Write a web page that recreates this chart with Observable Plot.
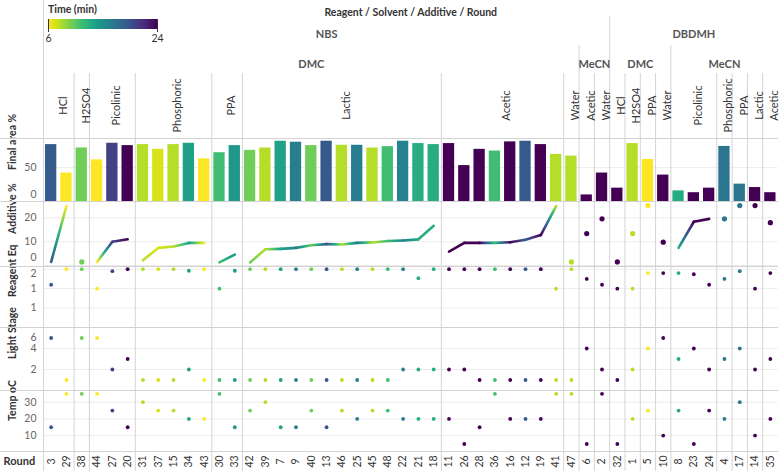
<!DOCTYPE html>
<html><head><meta charset="utf-8">
<script src="https://cdn.jsdelivr.net/npm/d3@7"></script>
<script src="https://cdn.jsdelivr.net/npm/@observablehq/plot@0.6"></script>
<style>
body{margin:0;background:#fff;font-family:Lato,sans-serif;}
#chart{position:relative;width:780px;height:471px;overflow:hidden;background:#fff}
#chart svg{display:block;overflow:visible}
.hline{position:absolute;left:0;width:778px;height:1px;background:#d2d2d2}
#legend{position:absolute;left:42px;top:0px}
</style></head><body><div id="chart"></div>
<script>
// ---- data (column order as in the chart) ----
const rounds = [3,29,38,44,27,20,31,37,15,34,43,30,33,42,39,7,9,40,13,46,25,45,48,22,21,18,11,26,28,36,16,12,19,41,47,6,2,32,1,5,10,8,23,24,4,17,14,35];
const reagent = ["NBS","NBS","NBS","NBS","NBS","NBS","NBS","NBS","NBS","NBS","NBS","NBS","NBS","NBS","NBS","NBS","NBS","NBS","NBS","NBS","NBS","NBS","NBS","NBS","NBS","NBS","NBS","NBS","NBS","NBS","NBS","NBS","NBS","NBS","NBS","NBS","NBS",
  "DBDMH","DBDMH","DBDMH","DBDMH","DBDMH","DBDMH","DBDMH","DBDMH","DBDMH","DBDMH","DBDMH"];
const solvent = ["DMC","DMC","DMC","DMC","DMC","DMC","DMC","DMC","DMC","DMC","DMC","DMC","DMC","DMC","DMC","DMC","DMC","DMC","DMC","DMC","DMC","DMC","DMC","DMC","DMC","DMC","DMC","DMC","DMC","DMC","DMC","DMC","DMC","DMC","DMC",
  "MeCN","MeCN","DMC","DMC","DMC","DMC","MeCN","MeCN","MeCN","MeCN","MeCN","MeCN","MeCN"];
const additive = ["HCl","HCl","H2SO4","Picolinic","Picolinic","Picolinic","Phosphoric","Phosphoric","Phosphoric","Phosphoric","Phosphoric","PPA","PPA",
  "Lactic","Lactic","Lactic","Lactic","Lactic","Lactic","Lactic","Lactic","Lactic","Lactic","Lactic","Lactic","Lactic",
  "Acetic","Acetic","Acetic","Acetic","Acetic","Acetic","Acetic","Acetic","Water",
  "Acetic","Water","HCl","H2SO4","PPA","Water","Picolinic","Picolinic","Picolinic","Phosphoric","PPA","Lactic","Acetic"];
const timeMin = [19,6,10,6,20.5,24,8,7,8,13.7,6,11.5,14.5,10,8,13.6,16.4,10,19,8,16.4,8,11.5,16,12.8,12.8,24,24,24,11.5,24,19,24,8,8,24,24,24,8,6,24,13,24,24,17,17,24,24];
const finalArea = [84,42,79,61.5,86,82.5,84,77,84,86,63,72,82.5,75.5,79,89,87.5,82.5,89,83,83,79,81,89,85.5,84,85.5,53,77,74.5,88,89,84,69.5,67,9.7,42,19.7,85.5,62,39,15.7,13,19.7,81.3,25.6,20.6,13];
const additivePct = [1.5,25,1.5,1.5,10,11,2.2,7.4,8,9.5,9.5,1.3,4.6,1.3,6.8,7,7.4,8.5,9,8.8,9.5,9.7,10.3,10.5,11,16.7,5.8,9.5,9.5,9.5,9.8,10.8,12.8,25,1.5,13.4,19.6,1.5,13.4,25.2,9.8,7.4,18.4,19.6,19.6,25.2,25.2,18];
const reagentEq = [1.1,1.5,1.5,1.0,1.45,1.5,1.5,1.5,1.5,1.46,1.5,1.0,1.46,1.5,1.5,1.5,1.5,1.5,1.5,1.5,1.5,1.5,1.5,1.5,1.27,1.5,1.5,1.5,1.5,1.5,1.5,1.5,1.5,1.0,1.5,1.25,1.1,1.0,1.0,1.4,1.4,1.4,1.37,1.1,1.25,1.45,1.0,1.4];
const lightStage = [5,1,5,5,2,3,1,1,1,2,1,1,1,1,1,1,1,1,1,1,1,1,1,2,2,2,2,2,1,1,1,1,1,1,1,4,2,1,2,4,5,3,4,2,3,4,2,3];
const tempC = [15,35,35,35,25,15,30,25,25,20,20,35,15,25,30,15,15,25,15,25,20,25,25,20,20,20,20,5,15,35,20,20,20,35,35,5,35,5,20,25,10,25,5,25,20,30,10,20];

// ---- table built from the arrays ----
const data = rounds.map((r, i) => ({
  i, round: r, reagent: reagent[i], solvent: solvent[i], additive: additive[i],
  time: timeMin[i], area: finalArea[i], add: additivePct[i], eq: reagentEq[i],
  light: lightStage[i], temp: tempC[i],
  k1: reagent[i], k2: reagent[i] + "|" + solvent[i], k3: reagent[i] + "|" + solvent[i] + "|" + additive[i]
}));
function runs(key, nameKey) {
  const out = [];
  for (const d of data) {
    const last = out[out.length - 1];
    if (last && last.k === d[key]) last.end = d.i + 1;
    else out.push({k: d[key], name: d[nameKey], start: d.i, end: d.i + 1});
  }
  out.forEach(g => g.mid = (g.start + g.end) / 2);
  return out;
}
const gReagent = runs("k1", "reagent"), gSolvent = runs("k2", "solvent"), gAdd = runs("k3", "additive");
const bReagent = gReagent.map(g => g.start).filter(s => s > 0);
const bSolvent = gSolvent.map(g => g.start).filter(s => s > 0 && !bReagent.includes(s));
const bAdd = gAdd.map(g => g.start).filter(s => s > 0 && !bReagent.includes(s) && !bSolvent.includes(s));
const bAll = [0, ...gAdd.map(g => g.start).filter(s => s > 0)];

// line segments for Additive %
const segs = [], singles = [];
for (const g of gAdd) {
  const pts = data.filter(d => d.k3 === g.k);
  if (pts.length === 1) singles.push(pts[0]);
  for (let j = 0; j + 1 < pts.length; j++) {
    segs.push({x1: pts[j].i + 0.5, y1: pts[j].add, x2: pts[j + 1].i + 0.5, y2: pts[j + 1].add, t1: pts[j].time, t2: pts[j + 1].time});
  }
}

const colorOpts = {type: "linear", scheme: "viridis", domain: [6, 24], reverse: true};
const FONT = "Lato, sans-serif";
const SEP = "#d4d4d4";
const base = {width: 780, marginLeft: 43, marginRight: 2.5, marginTop: 0, marginBottom: 0,
  x: {domain: [0, 48], axis: null},
  style: {fontFamily: FONT, fontSize: "10px", color: "#333", background: "transparent", overflow: "visible"}};

const chart = document.getElementById("chart");

// ---- header ----
const header = Plot.plot({...base, height: 138,
  marks: [
    Plot.ruleX([0], {stroke: SEP}),
    Plot.ruleX(bReagent, {stroke: SEP, insetTop: 16}),
    Plot.ruleX(bSolvent, {stroke: SEP, insetTop: 45}),
    Plot.ruleX(bAdd, {stroke: SEP, insetTop: 73}),
    Plot.text(["Reagent / Solvent / Additive / Round"], {text: d => d, frameAnchor: "top", dy: 8, fontWeight: "bold", fontSize: 10.5, fill: "#333"}),
    Plot.text(gReagent, {x: "mid", text: "name", frameAnchor: "top", dy: 30, fontSize: 11, fontWeight: "bold", fill: "#555"}),
    Plot.text(gSolvent, {x: "mid", text: "name", frameAnchor: "top", dy: 60, fontSize: 11, fontWeight: "bold", fill: "#555"}),
    Plot.text(gAdd, {x: "mid", text: "name", frameAnchor: "top", dy: 105, rotate: -90, fontSize: 11, fill: "#333"})
  ]});
chart.appendChild(header);

const leg = Plot.legend({color: colorOpts, label: "Time (min)", width: 121, marginLeft: 6, marginRight: 6,
  marginTop: 19, height: 48, tickSize: 3, ticks: [6, 24], tickFormat: d => d,
  style: {fontFamily: FONT, fontSize: "10.5px", color: "#333", background: "transparent"}});
leg.id = "legend";
chart.appendChild(leg);

// ---- panels ----
function panel({height, domain, ticks, edge = [], edgeDy = 0, fmt = d => d, title, marks}) {
  const normal = ticks.filter(t => !edge.includes(t));
  return Plot.plot({...base, height,
    y: {domain, axis: null},
    color: colorOpts,
    marks: [
      Plot.gridY(ticks, {stroke: "#ececec", strokeOpacity: 1}),
      Plot.ruleX(bAll, {stroke: SEP}),
      ...marks,
      Plot.text(normal, {y: d => d, text: fmt, frameAnchor: "left", dx: -7, textAnchor: "end", fill: "#666", fontSize: 10.5}),
      Plot.text(edge, {y: d => d, text: fmt, frameAnchor: "left", dx: -7, dy: edgeDy, textAnchor: "end", fill: "#666", fontSize: 10.5}),
      Plot.text([title], {text: d => d, frameAnchor: "left", dx: -31, rotate: -90, fontWeight: "bold", fontSize: 10.5, fill: "#333"})
    ]});
}

chart.appendChild(panel({height: 63, domain: [0, 93], ticks: [0, 50], edge: [0], edgeDy: -7, title: "Final area %",
  marks: [Plot.rectY(data, {x1: d => d.i, x2: d => d.i + 1, y: "area", fill: "time", insetLeft: 2, insetRight: 2})]}));

const addPlot = panel({height: 65, domain: [-0.42, 26.9], ticks: [0, 10, 20], edge: [0], edgeDy: -8, title: "Additive %",
  marks: [
    Plot.link(segs, {x1: "x1", y1: "y1", x2: "x2", y2: "y2", stroke: "t1", strokeWidth: 2.6, strokeLinecap: "round"}),
    Plot.dot(singles, {x: d => d.i + 0.5, y: "add", fill: "time", r: 2.6})
  ]});
chart.appendChild(addPlot);
// continuous colour along each segment (Tableau-style gradient)
(function () {
  const xs = addPlot.scale("x"), ys = addPlot.scale("y"), cs = addPlot.scale("color");
  const ns = "http://www.w3.org/2000/svg";
  const defs = document.createElementNS(ns, "defs");
  addPlot.insertBefore(defs, addPlot.firstChild);
  addPlot.querySelectorAll('g[aria-label="link"] path').forEach((p, j) => {
    const s = segs[j];
    const g = document.createElementNS(ns, "linearGradient");
    g.setAttribute("id", "seg" + j);
    g.setAttribute("gradientUnits", "userSpaceOnUse");
    g.setAttribute("x1", xs.apply(s.x1)); g.setAttribute("y1", ys.apply(s.y1));
    g.setAttribute("x2", xs.apply(s.x2)); g.setAttribute("y2", ys.apply(s.y2));
    for (let k = 0; k <= 4; k++) {
      const st = document.createElementNS(ns, "stop");
      st.setAttribute("offset", k / 4);
      st.setAttribute("stop-color", cs.apply(s.t1 + (s.t2 - s.t1) * k / 4));
      g.appendChild(st);
    }
    defs.appendChild(g);
    p.setAttribute("stroke", `url(#seg${j})`);
  });
})();

chart.appendChild(panel({height: 61, domain: [0, 1.57], ticks: [0.5, 1, 1.5], edge: [1.5], edgeDy: 4, fmt: d => String(Math.round(d)), title: "Reagent Eq",
  marks: [Plot.dot(data, {x: d => d.i + 0.5, y: "eq", fill: "time", r: 1.9})]}));

chart.appendChild(panel({height: 63, domain: [0, 6], ticks: [2, 4, 6], edge: [6], edgeDy: 10, title: "Light Stage",
  marks: [Plot.dot(data, {x: d => d.i + 0.5, y: "light", fill: "time", r: 1.9})]}));

chart.appendChild(panel({height: 61, domain: [0.5, 37], ticks: [10, 20, 30], title: "Temp oC",
  marks: [Plot.dot(data, {x: d => d.i + 0.5, y: "temp", fill: "time", r: 1.9})]}));

// ---- round row ----
chart.appendChild(Plot.plot({...base, height: 20,
  marks: [
    Plot.ruleX(bAll, {stroke: SEP}),
    Plot.text(data, {x: d => d.i + 0.5, text: d => String(d.round), frameAnchor: "middle", rotate: -90, fontSize: 10.5, fill: "#333"}),
    Plot.text(["Round"], {text: d => d, frameAnchor: "left", dx: -40, textAnchor: "start", fontWeight: "bold", fontSize: 11, fill: "#333"})
  ]}));

// row dividers
[138, 201, 266, 327, 390, 451].forEach(y => {
  const el = document.createElement("div");
  el.className = "hline"; el.style.top = (y - 0.5) + "px";
  chart.appendChild(el);
});
</script></body></html>
